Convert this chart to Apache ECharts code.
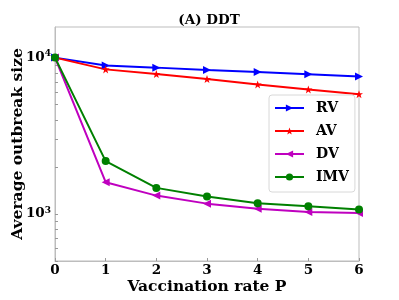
<!DOCTYPE html>
<html>
<head>
<meta charset="utf-8">
<script src="https://cdn.jsdelivr.net/npm/echarts@6/dist/echarts.min.js"></script>
<style>html,body{margin:0;padding:0;background:#fff;}#c{width:399px;height:300px;}</style>
</head>
<body>
<div id="c"></div>
<script>
var categories = [0, 1, 2, 3, 4, 5, 6];
var rv  = [10000, 8890, 8630, 8340, 8090, 7820, 7560];
var av  = [10000, 8410, 7850, 7300, 6740, 6260, 5840];
var dv  = [10000, 1597, 1310, 1164, 1081, 1030, 1015];
var imv = [10000, 2178, 1468, 1291, 1172, 1120, 1066];
var yTickLabels = [1000, 10000];
var yMinorTicks = [500, 600, 700, 800, 900, 1000, 2000, 3000, 4000, 5000, 6000, 7000, 8000, 9000, 10000];

var FONT = 'DejaVu Serif';
function pairs(arr) { return categories.map(function (c, i) { return [c, arr[i]]; }); }
var starPath = 'path://M0,-10 L2.35,-3.24 L9.51,-3.09 L3.8,1.24 L5.88,8.09 L0,4 L-5.88,8.09 L-3.8,1.24 L-9.51,-3.09 L-2.35,-3.24 Z';

function mk(name, data, color, symbol, rot, size) {
  return {
    name: name, type: 'line', data: pairs(data),
    symbol: symbol, symbolSize: size, symbolRotate: rot,
    lineStyle: { color: color, width: 2 },
    itemStyle: { color: color, borderWidth: 0 },
    emphasis: { disabled: true },
    animation: false
  };
}

var chart = echarts.init(document.getElementById('c'), null, { renderer: 'canvas' });
chart.setOption({
  animation: false,
  title: {
    text: '(A) DDT', left: 204, top: 8, textAlign: 'center',
    textStyle: { fontFamily: FONT, fontWeight: 'bold', fontSize: 13.5, color: '#000' }
  },
  grid: { left: 55, top: 27, right: 40, bottom: 39, show: true, borderColor: '#bdbdbd', borderWidth: 1, containLabel: false, outerBoundsMode: 'none' },
  legend: {
    left: 269, top: 95, orient: 'vertical',
    data: ['RV', 'AV', 'DV', 'IMV'],
    itemWidth: 29, itemHeight: 9, itemGap: 9,
    padding: [6, 6, 8, 5],
    borderColor: '#d8d8d8', borderWidth: 1, borderRadius: 3,
    backgroundColor: 'rgba(255,255,255,0.85)',
    textStyle: { fontFamily: FONT, fontWeight: 'bold', fontSize: 14, color: '#000', lineHeight: 14, padding: [0, 0, 0, 7] }
  },
  xAxis: {
    type: 'value', min: 0, max: 6, interval: 1,
    name: 'Vaccination rate P', nameLocation: 'middle', nameGap: 18, nameMoveOverlap: false,
    nameTextStyle: { fontFamily: FONT, fontWeight: 'bold', fontSize: 15.5, color: '#000' },
    axisLine: { show: true, lineStyle: { color: '#bdbdbd' } },
    axisTick: { show: true, inside: true, length: 3, lineStyle: { color: '#999' } },
    axisLabel: { fontFamily: FONT, fontWeight: 'bold', fontSize: 13.5, color: '#000', margin: 2 },
    splitLine: { show: false }
  },
  yAxis: {
    type: 'log', logBase: 10, min: 500, max: 15700,
    name: 'Average outbreak size', nameLocation: 'middle', nameGap: 29, nameMoveOverlap: false,
    nameTextStyle: { fontFamily: FONT, fontWeight: 'bold', fontSize: 15.5, color: '#000' },
    axisLine: { show: true, lineStyle: { color: '#bdbdbd' } },
    axisTick: { show: true, inside: true, length: 3, lineStyle: { color: '#999' }, customValues: yMinorTicks },
    axisLabel: {
      fontFamily: FONT, fontWeight: 'bold', fontSize: 13.5, color: '#000', margin: 4,
      customValues: yTickLabels,
      formatter: function (v) { return '10{sup|' + Math.round(Math.log10(v)) + '}'; },
      rich: { sup: { fontFamily: FONT, fontWeight: 'bold', fontSize: 9, color: '#000', verticalAlign: 'top', padding: [0, 0, 7, 0] } }
    },
    splitLine: { show: false }
  },
  series: [
    mk('RV', rv, '#0000ff', 'triangle', -90, 8),
    mk('AV', av, '#ff0000', starPath, 0, 8),
    mk('DV', dv, '#bf00bf', 'triangle', 90, 8),
    mk('IMV', imv, '#008000', 'circle', 0, 8)
  ]
});
</script>
</body>
</html>
